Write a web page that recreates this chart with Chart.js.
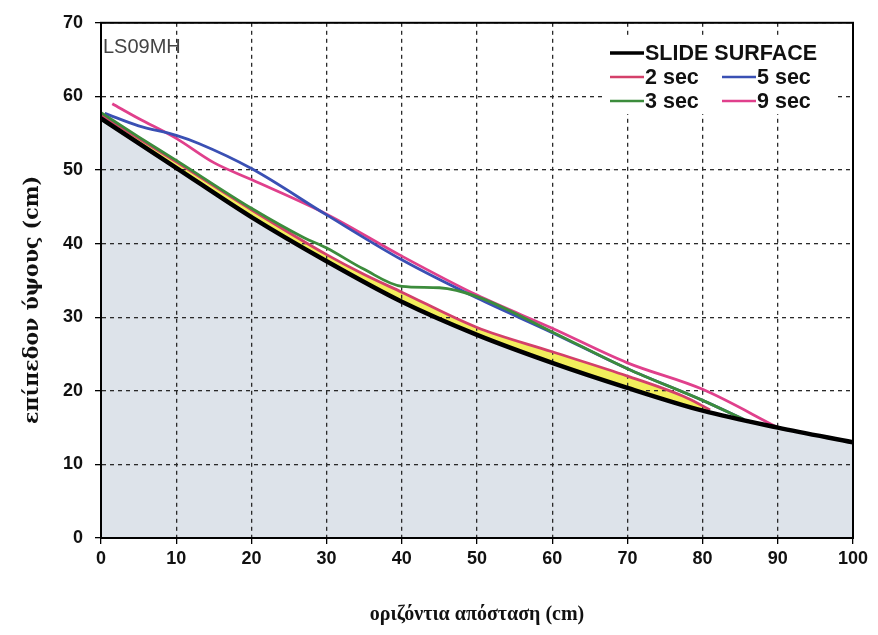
<!DOCTYPE html>
<html>
<head>
<meta charset="utf-8">
<script src="https://cdn.jsdelivr.net/npm/chart.js@4/dist/chart.umd.min.js"></script>
<style>
  body { margin: 0; background: #fff; }
</style>
</head>
<body>

<canvas id="myChart" width="878" height="635"></canvas>

<script>
// values (x in cm, y in cm)
const surfaceX = [0, 10, 20, 30, 40, 50, 60, 70, 80, 90, 100];
const surfaceY = [57, 50.3, 43.6, 37.6, 32.1, 27.6, 23.8, 20.4, 17.3, 15, 13];

const sec2X = [0, 10, 20, 30, 35, 40, 50, 60, 70, 78, 81];
const sec2Y = [57.5, 51.1, 44.6, 38.5, 35.8, 33.4, 28.6, 25.3, 22, 19, 17.4];

const sec3X = [0, 5, 10, 20, 27, 30, 35, 40, 45, 50, 60, 70, 80, 85.5];
const sec3Y = [57.8, 54.5, 51.3, 44.8, 40.8, 39.4, 36.5, 34.2, 34, 32.8, 28, 23, 18.7, 16.1];

const sec5X = [0.5, 5, 10, 13, 20, 30, 40, 50, 60, 70, 80, 85.5];
const sec5Y = [57.7, 56, 54.7, 53.6, 50.2, 43.9, 37.8, 32.6, 27.9, 23, 18.7, 16.1];

const sec9X = [1.5, 5, 10, 15, 20, 30, 40, 50, 60, 70, 80, 90];
const sec9Y = [59, 57, 54.3, 51, 48.7, 44, 38.3, 33, 28.5, 23.8, 20.2, 15];

const xTicks = [0, 10, 20, 30, 40, 50, 60, 70, 80, 90, 100];
const yTicks = [0, 10, 20, 30, 40, 50, 60, 70];

function pts(xs, ys) {
  return xs.map((x, i) => ({x: x, y: ys[i]}));
}

const legendItems = [
  {label: "SLIDE SURFACE", color: "#000000", w: 3.5, x: 610, y: 53},
  {label: "2 sec", color: "#d4406a", w: 2.5, x: 610, y: 77},
  {label: "5 sec", color: "#3a50b4", w: 2.5, x: 722, y: 77},
  {label: "3 sec", color: "#3c8c3c", w: 2.5, x: 610, y: 101},
  {label: "9 sec", color: "#e0408c", w: 2.5, x: 722, y: 101}
];

// frame, white legend box, legend, LS09MH tag, y title
const extras = {
  id: "extras",
  afterDatasetsDraw(chart) {
    const ctx = chart.ctx;
    const a = chart.chartArea;
    ctx.save();
    ctx.fillStyle = "#fff";
    ctx.fillRect(602, 38, 234, 76);
    ctx.font = "bold 21.5px 'Liberation Sans', Arial, sans-serif";
    ctx.textBaseline = "middle";
    legendItems.forEach(it => {
      ctx.strokeStyle = it.color;
      ctx.lineWidth = it.w;
      ctx.beginPath();
      ctx.moveTo(it.x, it.y);
      ctx.lineTo(it.x + 34, it.y);
      ctx.stroke();
      ctx.fillStyle = "#111";
      ctx.fillText(it.label, it.x + 35, it.y + 1);
    });
    ctx.font = "20px 'Liberation Sans', Arial, sans-serif";
    ctx.fillStyle = "#444";
    ctx.fillText("LS09MH", 103, 47);
    ctx.strokeStyle = "#000";
    ctx.lineWidth = 2;
    ctx.strokeRect(a.left, a.top, a.right - a.left, a.bottom - a.top);

    ctx.translate(33, 300);
    ctx.rotate(-Math.PI / 2);
    ctx.textAlign = "center";
    ctx.fillStyle = "#111";
    ctx.font = "bold 20.5px 'DejaVu Serif', serif";
    ctx.fillText("επίπεδον ύψους (cm)", 0, 0);
    ctx.restore();
  }
};

const myChart = new Chart("myChart", {
  type: "line",
  data: {
    datasets: [
      {label: "2 sec", data: pts(sec2X, sec2Y), borderColor: "#d4406a", borderWidth: 2.8,
       fill: "origin", backgroundColor: "#f2ee5c", order: 4},
      {label: "SLIDE SURFACE", data: pts(surfaceX, surfaceY), borderColor: "#000", borderWidth: 4.5,
       fill: "origin", backgroundColor: "#dde3ea", order: 0},
      {label: "5 sec", data: pts(sec5X, sec5Y), borderColor: "#3a50b4", borderWidth: 2.8, fill: false, order: 2},
      {label: "3 sec", data: pts(sec3X, sec3Y), borderColor: "#3c8c3c", borderWidth: 2.8, fill: false, order: 1},
      {label: "9 sec", data: pts(sec9X, sec9Y), borderColor: "#e0408c", borderWidth: 2.8, fill: false, order: 3}
    ]
  },
  options: {
    responsive: false,
    animation: false,
    layout: {padding: {top: 19, right: 25, left: 8, bottom: 0}},
    elements: {
      point: {radius: 0},
      line: {cubicInterpolationMode: "monotone"}
    },
    plugins: {
      legend: {display: false},
      tooltip: {enabled: false},
      filler: {drawTime: "beforeDraw"}
    },
    scales: {
      x: {
        type: "linear", min: 0, max: 100,
        afterBuildTicks: s => { s.ticks = xTicks.map(v => ({value: v})); },
        afterFit: s => { s.height = 97; },
        grid: {color: "#2a2a2a", tickColor: "#000", tickLength: 6, lineWidth: 1.3},
        border: {color: "#000", width: 2, dash: [4, 4]},
        ticks: {color: "#111", padding: 4, maxRotation: 0,
                font: {family: "'Liberation Sans Narrow', 'Liberation Sans', Arial", weight: "bold", size: 18}},
        title: {display: true, text: "οριζόντια απόσταση (cm)", color: "#111",
                font: {family: "'Liberation Serif', 'DejaVu Serif', serif", weight: "bold", size: 20},
                padding: {top: 20, bottom: 8}}
      },
      y: {
        type: "linear", min: 0, max: 70,
        afterBuildTicks: s => { s.ticks = yTicks.map(v => ({value: v})); },
        afterFit: s => { s.width = 93; },
        grid: {color: "#2a2a2a", tickColor: "#000", tickLength: 6, lineWidth: 1.3},
        border: {color: "#000", width: 2, dash: [4, 4]},
        ticks: {color: "#111", padding: 12,
                font: {family: "'Liberation Sans', Arial", weight: "bold", size: 18}},
        title: {display: false}
      }
    }
  },
  plugins: [extras]
});
</script>

</body>
</html>
